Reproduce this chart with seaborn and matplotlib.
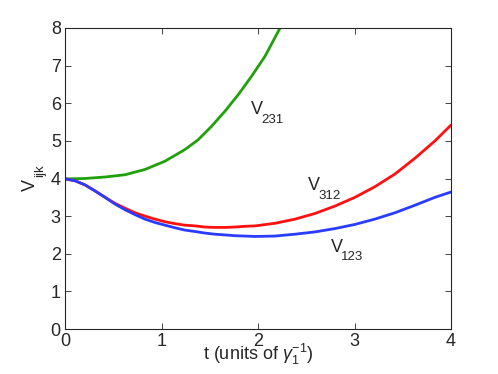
import matplotlib
matplotlib.use("Agg")
import matplotlib.pyplot as plt
import seaborn as sns
import pandas as pd

t_bl = [0, 0.104, 0.207, 0.311, 0.415, 0.518, 0.622, 0.725, 0.829, 0.933, 1.036, 1.14, 1.24, 1.35,
        1.45, 1.55, 1.66, 1.76, 1.865, 1.969, 2.176, 2.383, 2.59, 2.80, 3.005, 3.21, 3.42, 3.627,
        3.834, 4.0]
v123 = [3.99, 3.94, 3.83, 3.67, 3.50, 3.32, 3.17, 3.04, 2.92, 2.83, 2.76, 2.69, 2.63, 2.59,
        2.55, 2.52, 2.50, 2.48, 2.47, 2.46, 2.47, 2.52, 2.58, 2.67, 2.78, 2.92, 3.09, 3.29,
        3.50, 3.64]
t_rd = [0, 0.104, 0.207, 0.311, 0.415, 0.518, 0.622, 0.725, 0.829, 0.933, 1.036, 1.14, 1.24, 1.35,
        1.45, 1.55, 1.66, 1.76, 1.865, 1.969, 2.176, 2.383, 2.59, 2.80, 3.005, 3.21, 3.42, 3.627,
        3.834, 4.0]
v312 = [3.99, 3.94, 3.83, 3.67, 3.50, 3.34, 3.21, 3.09, 3.00, 2.92, 2.85, 2.80, 2.76, 2.74,
        2.71, 2.70, 2.70, 2.71, 2.73, 2.74, 2.81, 2.92, 3.07, 3.27, 3.50, 3.78, 4.12, 4.54,
        5.00, 5.42]
t_gr = [0, 0.207, 0.415, 0.622, 0.829, 1.036, 1.243, 1.38, 1.52, 1.658, 1.796, 1.934, 2.073,
        2.21, 2.30]
v231 = [3.99, 4.00, 4.04, 4.10, 4.24, 4.46, 4.77, 5.03, 5.39, 5.79, 6.23, 6.72, 7.25,
        7.91, 8.35]

labels = [("V", "231", 1.924, 5.72), ("V", "312", 2.52, 3.69), ("V", "123", 2.753, 2.055)]

sns.set_style("ticks")
plt.rcParams['font.family'] = ['Liberation Sans', 'DejaVu Sans']
plt.rcParams['mathtext.fontset'] = 'custom'
plt.rcParams['mathtext.rm'] = 'Liberation Sans'
plt.rcParams['mathtext.it'] = 'Liberation Sans:italic'

fig = plt.figure(figsize=(4.98, 3.74), dpi=100)
ax = fig.add_axes([65/498, 1-329/374, (451-65)/498, (329-28)/374])

df_b = pd.DataFrame({'t': t_bl, 'v': v123})
df_r = pd.DataFrame({'t': t_rd, 'v': v312})
df_g = pd.DataFrame({'t': t_gr, 'v': v231})

kw = dict(lw=2, solid_joinstyle='round', solid_capstyle='round')
sns.lineplot(data=df_g, x='t', y='v', ax=ax, color='#22a00c', **kw)
sns.lineplot(data=df_r, x='t', y='v', ax=ax, color='#ff1010', **kw)
sns.lineplot(data=df_b, x='t', y='v', ax=ax, color='#2a3cff', **kw)

ax.set_xlim(0, 4)
ax.set_ylim(0, 8)
ax.set_xticks([0, 1, 2, 3, 4])
ax.set_yticks(range(0, 9))
ax.tick_params(direction='in', top=True, right=True, labelsize=13, length=4, width=0.6, pad=3)
for s in ax.spines.values():
    s.set_linewidth(0.8)
    s.set_visible(True)

for main, sub, x, y in labels:
    ax.text(x, y, main, fontsize=13, va='baseline', ha='left')
    ax.annotate(sub, xy=(x, y), xytext=(7.7, -6.3), textcoords='offset points',
                fontsize=9.5, va='baseline', ha='left')

ax.set_xlabel(r't (units of $\gamma_1^{-1}$)', fontsize=13, labelpad=-6)
ax.set_ylabel('')
fig.text(30/498, 1-185/374, 'V', rotation=90, fontsize=13, ha='center', va='center')
fig.text(40/498, 1-171/374, 'ijk', rotation=90, fontsize=9.5, ha='center', va='center')

fig.savefig('out.png', dpi=100)
